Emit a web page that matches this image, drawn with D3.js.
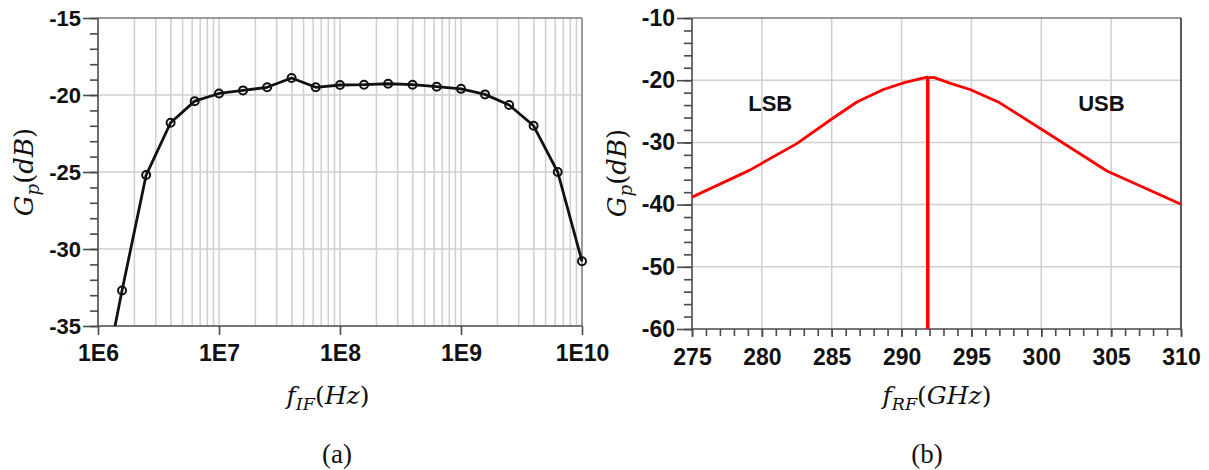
<!DOCTYPE html>
<html><head><meta charset="utf-8">
<script src="https://cdn.jsdelivr.net/npm/d3@7"></script>
<style>body{margin:0;background:#fff}svg{display:block}</style>
</head><body><svg id="c" width="1209" height="470"></svg>
<script>
// ---- Data: panel (a) ----
const ifFreqHz = [1e6, 1.58e6, 2.5e6, 3.98e6, 6.3e6, 1e7, 1.58e7, 2.5e7, 3.98e7, 6.3e7, 1e8, 1.58e8, 2.5e8, 3.98e8, 6.3e8, 1e9, 1.58e9, 2.5e9, 3.98e9, 6.3e9, 1e10];
const ifGainDb = [-40.6, -32.7, -25.2, -21.8, -20.4, -19.9, -19.7, -19.5, -18.9, -19.5, -19.35, -19.33, -19.27, -19.33, -19.46, -19.6, -19.96, -20.65, -22.0, -25.0, -30.8];
const ifTickValues = [1e6, 1e7, 1e8, 1e9, 1e10];
const ifTickLabels = ["1E6", "1E7", "1E8", "1E9", "1E10"];
const gainTicksA = [-35, -30, -25, -20, -15];

// ---- Data: panel (b) ----
const rfFreqGHz = [275, 279.1, 282.5, 284.9, 286.8, 288.7, 290.2, 291.3, 291.85, 291.85, 291.9, 291.9, 292.3, 293.5, 294.9, 297.0, 300.1, 304.7, 310];
const rfGainDb = [-38.8, -34.5, -30.2, -26.4, -23.5, -21.5, -20.4, -19.8, -19.5, -60, -60, -19.6, -19.55, -20.5, -21.5, -23.6, -28.0, -34.6, -39.95];
const rfTicks = [275, 280, 285, 290, 295, 300, 305, 310];
const gainTicksB = [-60, -50, -40, -30, -20, -10];
const bandLabels = ["LSB", "USB"];
const bandLabelFreq = [280.6, 304.3];
const bandLabelGain = [-24.0, -24.0];

const svg = d3.select("#c");
const AXC = "#4a4a4a", GRID = "#cfcfcf", FRAME = "#7a7a7a";
const tickFont = "'Liberation Sans', Arial, sans-serif";
const mathFont = "'DejaVu Serif', serif";

function styleAxis(g, size) {
  g.select(".domain").remove();
  g.selectAll("line").attr("stroke", AXC).attr("stroke-width", 1.6);
  g.selectAll("text").attr("font-family", tickFont).attr("font-weight", "bold")
    .attr("font-size", size).attr("fill", "#111");
}

function mathTitle(g, parts, x, y, rotate, size) {
  const t = g.append("text").attr("font-family", mathFont).attr("font-size", size)
    .attr("fill", "#111").attr("text-anchor", "middle")
    .attr("transform", `translate(${x},${y})` + (rotate ? " rotate(-90)" : ""));
  parts.forEach(p => {
    const s = t.append("tspan").text(p.t)
      .attr("font-style", p.i ? "italic" : "normal");
    if (p.sub) s.attr("font-size", size * 0.7).attr("dy", size * 0.22);
    if (p.up) s.attr("dy", -size * 0.22);
  });
}

// ================= Panel (a) =================
{
  const L = 98, R = 582, T = 18, B = 326;
  const x = d3.scaleLog().domain([1e6, 1e10]).range([L, R]);
  const y = d3.scaleLinear().domain([-35, -15]).range([B, T]);
  const g = svg.append("g");

  g.append("g").selectAll("line").data(x.ticks().filter(v => v > 1e6 && v < 1e10))
    .join("line").attr("x1", d => x(d)).attr("x2", d => x(d)).attr("y1", T).attr("y2", B)
    .attr("stroke", GRID).attr("stroke-width", 1.5);
  g.append("g").selectAll("line").data(gainTicksA.filter(v => v > -35 && v < -15))
    .join("line").attr("y1", d => y(d)).attr("y2", d => y(d)).attr("x1", L).attr("x2", R)
    .attr("stroke", GRID).attr("stroke-width", 1.5);

  g.append("line").attr("x1", L).attr("x2", R).attr("y1", T).attr("y2", T).attr("stroke", FRAME).attr("stroke-width", 1.5);
  g.append("line").attr("x1", R).attr("x2", R).attr("y1", T).attr("y2", B).attr("stroke", FRAME).attr("stroke-width", 1.5);

  const ym = g.append("g").attr("transform", `translate(${L},0)`)
    .call(d3.axisLeft(y).tickValues(d3.range(-35, -14, 1)).tickSize(8).tickFormat(""));
  styleAxis(ym, 22);
  const ya = g.append("g").attr("transform", `translate(${L},0)`)
    .call(d3.axisLeft(y).tickValues(gainTicksA).tickSize(15).tickPadding(2).tickFormat(d => String(d)));
  styleAxis(ya, 22);

  const xa = g.append("g").attr("transform", `translate(0,${B})`)
    .call(d3.axisBottom(x).tickValues(ifTickValues).tickSize(9)
      .tickFormat((d, i) => ifTickLabels[i]));
  styleAxis(xa, 23);
  xa.selectAll("text").attr("dy", null).attr("y", 35);

  g.append("line").attr("x1", L).attr("x2", L).attr("y1", T).attr("y2", B).attr("stroke", AXC).attr("stroke-width", 1.6);
  g.append("line").attr("x1", L).attr("x2", R).attr("y1", B).attr("y2", B).attr("stroke", AXC).attr("stroke-width", 1.6);

  svg.append("clipPath").attr("id", "clipA").append("rect").attr("x", L).attr("y", T).attr("width", R - L + 6).attr("height", B - T);
  const pts = ifFreqHz.map((f, i) => [f, ifGainDb[i]]);
  const pg = g.append("g").attr("clip-path", "url(#clipA)");
  pg.append("path").datum(pts)
    .attr("d", d3.line().x(d => x(d[0])).y(d => y(d[1])))
    .attr("fill", "none").attr("stroke", "#111").attr("stroke-width", 2.8).attr("stroke-linejoin", "round");
  pg.selectAll("circle").data(pts).join("circle")
    .attr("cx", d => x(d[0])).attr("cy", d => y(d[1])).attr("r", 4)
    .attr("fill", "none").attr("stroke", "#111").attr("stroke-width", 2);

  mathTitle(g, [{t: "G", i: 1}, {t: "p", i: 1, sub: 1}, {t: "(", i: 0, up: 1}, {t: "dB", i: 1}, {t: ")", i: 0}], 33, 172, true, 26);
  mathTitle(g, [{t: "f", i: 1}, {t: "IF", i: 1, sub: 1}, {t: "(", i: 0, up: 1}, {t: "Hz", i: 1}, {t: ")", i: 0}], 328, 404, false, 25);
  g.append("text").attr("x", 337).attr("y", 463).attr("text-anchor", "middle")
    .attr("font-family", "'Liberation Serif', serif").attr("font-size", 27).attr("fill", "#111").text("(a)");
}

// ================= Panel (b) =================
{
  const L = 692, R = 1181, T = 18, B = 329;
  const x = d3.scaleLinear().domain([275, 310]).range([L, R]);
  const y = d3.scaleLinear().domain([-60, -10]).range([B, T]);
  const g = svg.append("g");

  g.append("g").selectAll("line").data(rfTicks.filter(v => v > 275 && v < 310))
    .join("line").attr("x1", d => x(d)).attr("x2", d => x(d)).attr("y1", T).attr("y2", B)
    .attr("stroke", GRID).attr("stroke-width", 1.5);
  g.append("g").selectAll("line").data(gainTicksB.filter(v => v > -60 && v < -10))
    .join("line").attr("y1", d => y(d)).attr("y2", d => y(d)).attr("x1", L).attr("x2", R)
    .attr("stroke", GRID).attr("stroke-width", 1.5);

  g.append("line").attr("x1", L).attr("x2", R).attr("y1", T).attr("y2", T).attr("stroke", FRAME).attr("stroke-width", 1.5);
  g.append("line").attr("x1", R).attr("x2", R).attr("y1", T).attr("y2", B).attr("stroke", "#222").attr("stroke-width", 1.5);

  const ym = g.append("g").attr("transform", `translate(${L},0)`)
    .call(d3.axisLeft(y).tickValues(d3.range(-60, -9, 2)).tickSize(8).tickFormat(""));
  styleAxis(ym, 23);
  const ya = g.append("g").attr("transform", `translate(${L},0)`)
    .call(d3.axisLeft(y).tickValues(gainTicksB).tickSize(15).tickPadding(2).tickFormat(d => String(d)));
  styleAxis(ya, 23);

  const xm = g.append("g").attr("transform", `translate(0,${B})`)
    .call(d3.axisBottom(x).tickValues(d3.range(275, 311, 1)).tickSize(7).tickFormat(""));
  styleAxis(xm, 23);
  const xa = g.append("g").attr("transform", `translate(0,${B})`)
    .call(d3.axisBottom(x).tickValues(rfTicks).tickSize(8).tickFormat(d => String(d)));
  styleAxis(xa, 23);
  xa.selectAll("text").attr("dy", null).attr("y", 36);

  g.append("line").attr("x1", L).attr("x2", L).attr("y1", T).attr("y2", B).attr("stroke", AXC).attr("stroke-width", 1.6);
  g.append("line").attr("x1", L).attr("x2", R).attr("y1", B).attr("y2", B).attr("stroke", AXC).attr("stroke-width", 1.6);

  svg.append("clipPath").attr("id", "clipB").append("rect").attr("x", L).attr("y", T).attr("width", R - L).attr("height", B - T);
  const pts = rfFreqGHz.map((f, i) => [f, rfGainDb[i]]);
  g.append("path").datum(pts).attr("clip-path", "url(#clipB)")
    .attr("d", d3.line().x(d => x(d[0])).y(d => y(d[1])))
    .attr("fill", "none").attr("stroke", "#ff0000").attr("stroke-width", 2.8).attr("stroke-linejoin", "round");

  g.selectAll("text.band").data(bandLabels).join("text").attr("class", "band")
    .attr("x", (d, i) => x(bandLabelFreq[i])).attr("y", (d, i) => y(bandLabelGain[i]) + 6)
    .attr("text-anchor", "middle").attr("font-family", tickFont).attr("font-weight", "bold")
    .attr("font-size", 22).attr("fill", "#111").text(d => d);

  mathTitle(g, [{t: "G", i: 1}, {t: "p", i: 1, sub: 1}, {t: "(", i: 0, up: 1}, {t: "dB", i: 1}, {t: ")", i: 0}], 626, 173, true, 26);
  mathTitle(g, [{t: "f", i: 1}, {t: "RF", i: 1, sub: 1}, {t: "(", i: 0, up: 1}, {t: "GHz", i: 1}, {t: ")", i: 0}], 937, 404, false, 25);
  g.append("text").attr("x", 927).attr("y", 463).attr("text-anchor", "middle")
    .attr("font-family", "'Liberation Serif', serif").attr("font-size", 27).attr("fill", "#111").text("(b)");
}
</script></body></html>
